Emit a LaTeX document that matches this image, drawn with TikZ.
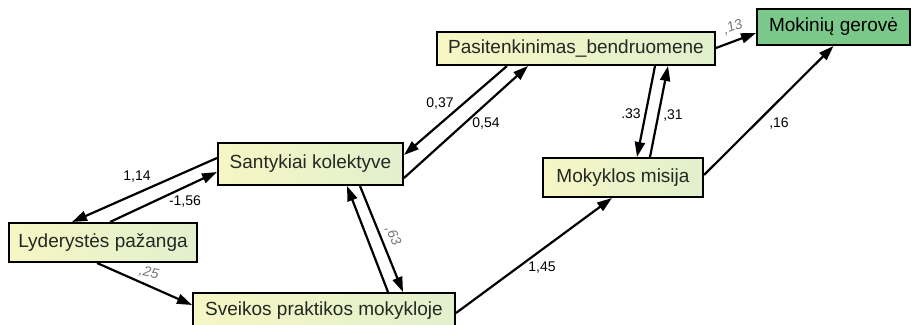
\documentclass[tikz,border=0pt]{standalone}
\usepackage{fontspec}
\setmainfont{Liberation Sans}
\usetikzlibrary{arrows.meta,calc}
\definecolor{boxL}{RGB}{246,246,196}
\definecolor{boxR}{RGB}{226,240,206}
\definecolor{greenbox}{RGB}{122,200,138}
\definecolor{txt}{RGB}{35,40,35}
\definecolor{lblgray}{RGB}{120,120,120}
\tikzset{
  varbox/.style={draw=black, line width=2pt, left color=boxL, right color=boxR,
    inner sep=0pt, font=\fontsize{19}{21}\selectfont, text=txt},
  outbox/.style={draw=black, line width=2pt, fill=greenbox,
    inner sep=0pt, font=\fontsize{19}{21}\selectfont, text=black},
  path/.style={line width=2.2pt, -{Triangle[length=15pt,width=10pt]}},
  coef/.style={font=\fontsize{14}{16}\selectfont, text=black, inner sep=0pt},
  coefgray/.style={font=\itshape\fontsize{14}{16}\selectfont, text=lblgray, inner sep=0pt}
}
\begin{document}
\begin{tikzpicture}[x=1pt,y=-1pt]
\useasboundingbox (0,0) rectangle (912,324);
\begin{scope}
\clip (0,0) rectangle (912,324);
\node[varbox, minimum width=188pt, minimum height=39pt] (lyd) at (103,242.5) {Lyderystės pažanga};
\node[varbox, minimum width=185pt, minimum height=42pt] (san) at (310.5,164) {Santykiai kolektyve};
\node[varbox, minimum width=262pt, minimum height=36pt] (sve) at (324,311) {Sveikos praktikos mokykloje};
\node[varbox, minimum width=278pt, minimum height=33pt] (pas) at (576,48.5) {Pasitenkinimas\_bendruomene};
\node[outbox, minimum width=153pt, minimum height=36pt] (mok) at (833.5,27) {Mokinių gerovė};
\node[varbox, minimum width=160pt, minimum height=39pt] (mis) at (623,177.5) {Mokyklos misija};
\end{scope}

\draw[path] ([yshift=6pt]san.west) -- ([xshift=-31pt]lyd.north);
\draw[path] ([xshift=7pt]lyd.north) -- ([yshift=-8pt]san.west);
\draw[path] ([xshift=-6pt]lyd.south) -- ([yshift=6pt]sve.west);
\draw[path] ([xshift=64pt]sve.north) -- ([xshift=36.5pt]san.south);
\draw[path] ([xshift=49.5pt]san.south) -- ([xshift=79pt]sve.north);
\draw[path] ([xshift=-69pt]pas.south) -- ([yshift=9pt]san.east);
\draw[path] ([yshift=-14pt]san.east) -- ([xshift=-48pt]pas.south);
\draw[path] ([xshift=79pt]pas.south) -- ([xshift=14pt]mis.north);
\draw[path] ([xshift=27pt]mis.north) -- ([xshift=92pt]pas.south);
\draw[path] ([yshift=0.5pt]pas.east) -- ([yshift=-6pt]mok.west);
\draw[path] ([yshift=2.5pt]mis.east) -- (mok.south);
\draw[path] ([yshift=-2pt]sve.east) -- ([xshift=-11pt]mis.south);

\node[coef] (l114) at (137,177) {1,14};
\node[coef] (l156) at (185,202) {-1,56};
\node[coefgray, rotate=-12] (l25) at (149,273) {,25};
\node[coefgray, rotate=-65] (l63) at (393,236) {,63};
\node[coef] (l037) at (440,104) {0,37};
\node[coef] (l054) at (486,124) {0,54};
\node[coef] (l33) at (631,114) {.33};
\node[coef] (l31) at (673,116) {,31};
\node[coefgray, rotate=20] (l13) at (733,27) {,13};
\node[coef] (l16) at (779,124) {,16};
\node[coef] (l145) at (542,268) {1,45};
\end{tikzpicture}
\end{document}
